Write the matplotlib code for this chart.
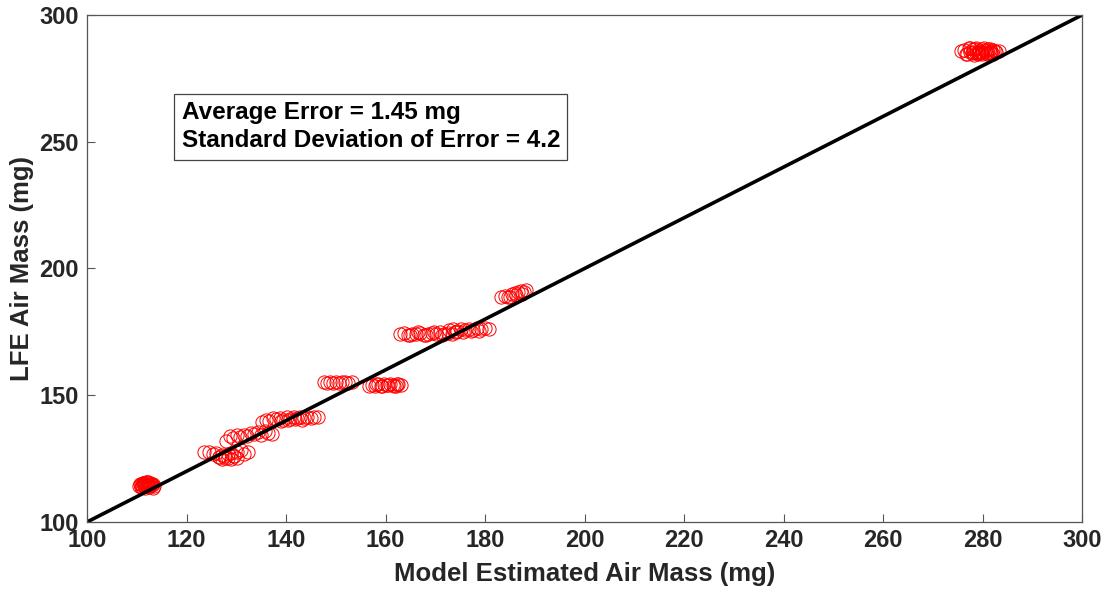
import numpy as np
import matplotlib.pyplot as plt
from matplotlib import font_manager as fm

# pick the regular-width Liberation Sans Bold file (not the Narrow one)
bold_file = None
for f in fm.findSystemFonts():
    if f.endswith('LiberationSans-Bold.ttf'):
        bold_file = f
        break
if bold_file:
    fm.fontManager.addfont(bold_file)
    fp = fm.FontProperties(fname=bold_file)
else:
    fp = fm.FontProperties(family='DejaVu Sans', weight='bold')

# model estimated air mass (mg), read off the clusters
model_est = [
    # ~112 mg cluster
    110.4, 110.8, 111.1, 111.4, 111.7, 112.0, 112.3, 112.6, 112.9, 113.2, 113.5,
    110.6, 110.9, 111.2, 111.5, 111.8, 112.1, 112.4, 112.7, 113.0, 113.3,
    111.0, 111.3, 111.6, 111.9, 112.2, 112.5, 112.8, 111.4, 112.0,
    # ~125-148 mg band
    123.6, 124.6, 125.4, 126.0, 126.6, 127.2, 127.8, 128.4, 129.0, 129.6, 130.2, 130.9, 131.6, 132.3,
    126.5, 127.1, 127.7, 128.3, 128.9, 129.5, 130.1,
    128.0, 128.7, 129.4, 130.1, 130.8, 131.5, 132.2, 132.9, 133.6, 134.3, 135.0, 135.7, 136.4, 137.1,
    135.2, 135.9, 136.6, 137.3, 138.0, 138.7, 139.4, 140.1, 140.8, 141.5, 142.2, 142.9, 143.6, 144.3,
    145.0, 145.7, 146.4, 139.0, 140.4, 141.8, 143.2,
    # ~155 mg
    147.6, 148.2, 148.8, 149.4, 150.0, 150.6, 151.2, 151.8, 152.4, 153.2,
    # ~154 mg
    156.6, 157.2, 157.8, 158.4, 159.0, 159.6, 160.2, 160.8, 161.4, 162.0, 162.6, 163.2,
    158.0, 159.2, 160.4, 161.6, 162.4,
    # ~174 mg
    163.0, 163.8, 164.6, 165.4, 166.2, 167.0, 167.8, 168.6, 169.4, 170.2, 171.0, 171.8, 172.6, 173.4, 174.2,
    165.0, 166.6, 168.2, 169.8, 171.4,
    # ~176 mg
    172.8, 173.6, 174.4, 175.2, 176.0, 176.8, 177.6, 178.4, 179.2, 180.0, 180.8,
    174.0, 175.6, 177.2, 178.8,
    # ~190 mg
    183.2, 184.0, 184.7, 185.4, 186.0, 186.6, 187.2, 187.8, 188.3,
    185.0, 186.3, 187.5,
    # ~285 mg cluster
    275.6, 276.2, 276.8, 277.4, 278.0, 278.6, 279.2, 279.8, 280.4, 281.0, 281.6, 282.2, 282.8, 283.4,
    276.6, 277.2, 277.8, 278.4, 279.0, 279.6, 280.2, 280.8, 281.4, 282.0, 282.6,
    277.5, 278.1, 278.7, 279.3, 279.9, 280.5, 281.1, 281.7,
    278.3, 279.1, 279.9, 280.7, 281.5,
]
# LFE air mass (mg)
lfe_mass = [
    114.2, 114.8, 113.9, 115.2, 114.5, 115.6, 114.0, 114.7, 115.0, 113.6, 114.3,
    115.0, 113.8, 115.4, 114.1, 115.8, 114.6, 113.7, 115.3, 114.4, 115.1,
    114.5, 115.5, 113.6, 114.9, 115.7, 114.0, 114.8, 115.1, 114.3,
    127.8, 127.6, 126.8, 127.2, 125.8, 126.4, 125.2, 126.9, 127.3, 126.0, 127.5, 128.2, 127.0, 127.6,
    125.5, 124.9, 126.1, 125.3, 124.8, 125.9, 125.4,
    132.0, 133.8, 133.2, 134.3, 133.6, 134.5, 134.0, 135.0, 134.6, 135.4, 134.2, 135.8, 135.2, 134.8,
    139.6, 140.3, 140.0, 141.0, 140.6, 141.2, 140.4, 141.3, 140.7, 141.4, 140.9, 141.6, 141.1, 141.5,
    141.2, 141.6, 141.3, 139.8, 140.2, 140.5, 140.1,
    155.2, 154.8, 155.4, 155.0, 155.3, 154.9, 155.1, 155.3, 154.9, 155.2,
    153.6, 154.2, 153.8, 154.4, 153.7, 154.3, 153.9, 154.5, 154.1, 153.8, 154.3, 154.0,
    154.6, 153.5, 154.2, 153.6, 154.4,
    174.0, 174.4, 173.8, 174.3, 174.0, 174.5, 173.9, 174.2, 174.6, 174.1, 175.0, 174.3, 174.7, 174.2, 174.8,
    173.6, 174.8, 173.7, 174.9, 173.8,
    175.6, 176.0, 175.4, 176.2, 175.8, 176.3, 175.9, 176.4, 176.0, 176.5, 176.2,
    174.9, 175.0, 175.3, 175.5,
    188.8, 189.3, 188.9, 189.8, 190.3, 190.8, 191.2, 190.9, 191.4,
    188.6, 189.6, 190.0,
    285.8, 286.3, 284.8, 285.5, 286.4, 285.1, 286.0, 285.4, 286.2, 285.0, 285.7, 286.1, 285.3, 285.8,
    284.6, 287.0, 284.9, 286.6, 284.7, 285.3, 286.8, 284.5, 286.7, 284.8, 285.9,
    286.9, 285.6, 287.1, 285.2, 286.5, 285.9, 286.6, 285.1,
    284.4, 285.0, 284.6, 284.9, 285.4,
]

ref_line = [100, 300]

fig = plt.figure(figsize=(11.09, 5.96), dpi=100)
ax = fig.add_axes([0.0785, 0.1242, 0.8972, 0.8506])

ax.plot(model_est, lfe_mass, 'o', markerfacecolor='none', markeredgecolor='red',
        markersize=9.5, markeredgewidth=0.7)
ax.plot(ref_line, ref_line, color='black', linewidth=2.6)

ax.set_xlim(100, 300)
ax.set_ylim(100, 300)
ax.set_xticks(np.arange(100, 301, 20))
ax.set_yticks(np.arange(100, 301, 50))
ax.tick_params(direction='in', length=6, width=0.8, color='#555555',
               labelcolor='#262626')
ax.tick_params(axis='x', pad=5)
ax.tick_params(axis='y', pad=6)
for lab in ax.get_xticklabels() + ax.get_yticklabels():
    lab.set_fontproperties(fp)
    lab.set_fontsize(17)
for s in ax.spines.values():
    s.set_color('#555555')
    s.set_linewidth(0.9)

ax.set_xlabel('Model Estimated Air Mass (mg)', fontproperties=fp, fontsize=18.5,
              color='#262626', labelpad=7)
ax.set_ylabel('LFE Air Mass (mg)', fontproperties=fp, fontsize=18.5,
              color='#262626')
ax.yaxis.set_label_coords(-0.053, 0.5)

ax.text(119.0, 256, 'Average Error = 1.45 mg\nStandard Deviation of Error = 4.2',
        fontproperties=fp, fontsize=17.5, va='center', ha='left', linespacing=1.3,
        bbox=dict(boxstyle='square,pad=0.3', facecolor='white', edgecolor='#444444', linewidth=0.9))

fig.savefig('out.png', dpi=100)
